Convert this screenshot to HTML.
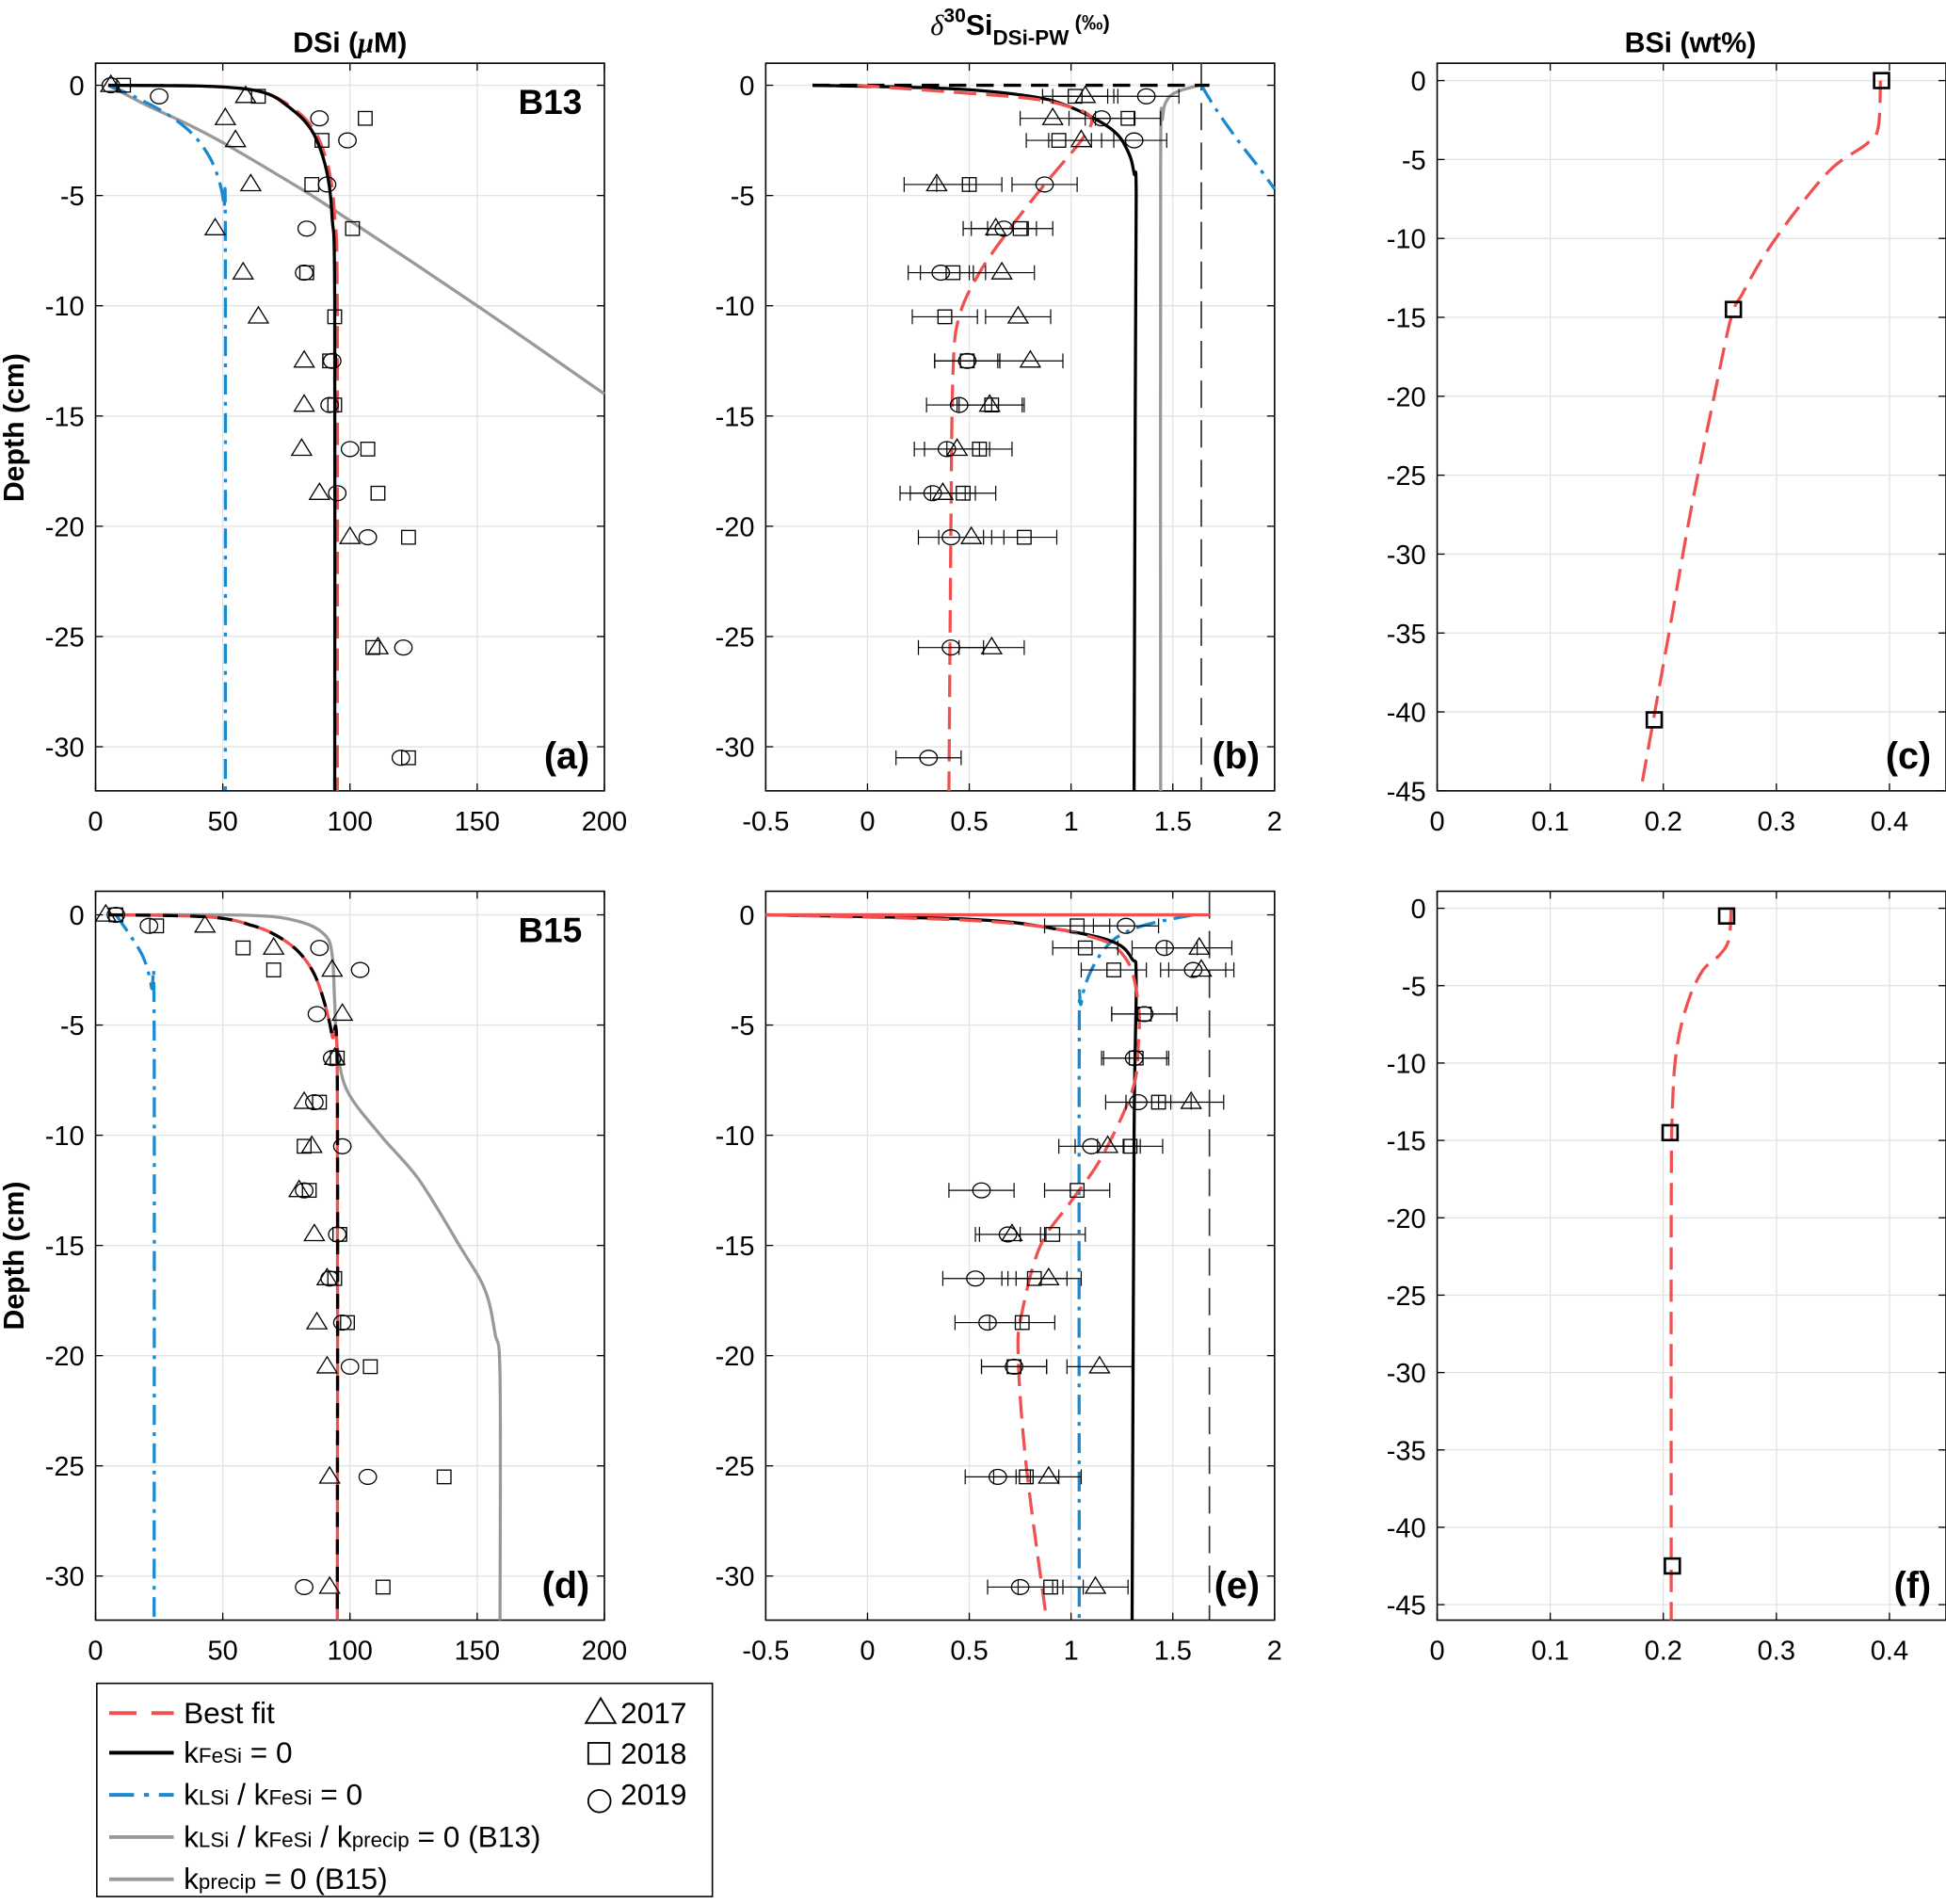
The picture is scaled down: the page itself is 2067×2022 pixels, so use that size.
<!DOCTYPE html>
<html><head><meta charset="utf-8">
<style>
html,body{margin:0;padding:0;background:#fff;}
svg{display:block;font-family:"Liberation Sans",sans-serif;}
</style></head>
<body>
<svg id="fig" width="2067" height="2022" viewBox="0 0 1568 1536" preserveAspectRatio="none" xmlns="http://www.w3.org/2000/svg">
<text x="282" y="42" font-size="23" font-weight="bold" text-anchor="middle">DSi (<tspan font-style="italic" font-family="Liberation Serif">μ</tspan>M)</text>
<text x="822" y="28" font-size="23" font-weight="bold" text-anchor="middle"><tspan font-style="italic" font-weight="normal" font-family="Liberation Serif">δ</tspan><tspan font-size="16" dy="-10">30</tspan><tspan dy="10">Si</tspan><tspan font-size="17" dy="8">DSi-PW</tspan><tspan font-size="17" dy="-12"> (‰)</tspan></text>
<text x="1362" y="42" font-size="23" font-weight="bold" text-anchor="middle">BSi (wt%)</text>
<text transform="translate(19,345) rotate(-90)" font-size="23" font-weight="bold" text-anchor="middle">Depth (cm)</text>
<text transform="translate(19,1013) rotate(-90)" font-size="23" font-weight="bold" text-anchor="middle">Depth (cm)</text>
<g id="legend">
<rect x="78" y="1358" width="496" height="172" fill="#fff" stroke="#000" stroke-width="1.2"/>
<line x1="88" y1="1382" x2="140" y2="1382" stroke="#f05050" stroke-width="3" stroke-dasharray="22,12,4,0"/>
<text x="148" y="1390" font-size="24">Best fit</text>
<line x1="88" y1="1414" x2="140" y2="1414" stroke="#000" stroke-width="3"/>
<text x="148" y="1422" font-size="24">k<tspan font-size="17">FeSi</tspan> = 0</text>
<line x1="88" y1="1448" x2="140" y2="1448" stroke="#1a8ad0" stroke-width="3" stroke-dasharray="20,8,4,8"/>
<text x="148" y="1456" font-size="24">k<tspan font-size="17">LSi</tspan> / k<tspan font-size="17">FeSi</tspan> = 0</text>
<line x1="88" y1="1482" x2="140" y2="1482" stroke="#999" stroke-width="3"/>
<text x="148" y="1490" font-size="24">k<tspan font-size="17">LSi</tspan> / k<tspan font-size="17">FeSi</tspan> / k<tspan font-size="17">precip</tspan> = 0 (B13)</text>
<line x1="88" y1="1516" x2="140" y2="1516" stroke="#999" stroke-width="3"/>
<text x="148" y="1524" font-size="24">k<tspan font-size="17">precip</tspan> = 0 (B15)</text>
<path d="M472,1390 L484,1370 L496,1390 Z" fill="none" stroke="#000" stroke-width="1.4"/>
<text x="500" y="1390" font-size="24">2017</text>
<rect x="474" y="1406" width="17" height="17" fill="none" stroke="#000" stroke-width="1.4"/>
<text x="500" y="1423" font-size="24">2018</text>
<circle cx="483" cy="1453" r="9" fill="none" stroke="#000" stroke-width="1.4"/>
<text x="500" y="1456" font-size="24">2019</text>
</g>
</svg>
<script>
// ---- Panel (a) B13 DSi ----
const aBestX=[5,40,58,68,76,83,88,92,94,95,95];
const aBestY=[0,-0.03,-0.15,-0.4,-0.9,-1.6,-2.5,-4,-6,-10,-32];
const aBlackX=[5,40,58,68,75,82,87,91,93,94,94];
const aBlackY=[0,-0.03,-0.15,-0.4,-0.9,-1.6,-2.5,-4,-6,-10,-32];
const aBlueX=[5,15,28,38,45,49,50.5,51,51];
const aBlueY=[0,-0.5,-1.3,-2.2,-3.3,-4.5,-5.5,-7,-32];
const aGrayX=[5,20,35,50,75,93,150,200];
const aGrayY=[0,-0.9,-1.7,-2.6,-4.3,-5.6,-10,-14];
const aTriX=[6,59,51,55,61,47,58,64,82,82,81,88,100,111];
const aTriY=[0,-0.5,-1.5,-2.5,-4.5,-6.5,-8.5,-10.5,-12.5,-14.5,-16.5,-18.5,-20.5,-25.5];
const aSqX=[11,64,106,89,85,101,83,94,92,94,107,111,123,109,123];
const aSqY=[0,-0.5,-1.5,-2.5,-4.5,-6.5,-8.5,-10.5,-12.5,-14.5,-16.5,-18.5,-20.5,-25.5,-30.5];
const aCirX=[6,25,88,99,91,83,82,93,92,100,95,107,121,120];
const aCirY=[0,-0.5,-1.5,-2.5,-4.5,-6.5,-8.5,-12.5,-14.5,-16.5,-18.5,-20.5,-25.5,-30.5];
// ---- Panel (b) B13 d30Si ----
const bBestX=[-0.05,0.4,0.8,1.0,1.1,1.05,0.87,0.7,0.55,0.45,0.42,0.41,0.40];
const bBestY=[0,-0.3,-0.6,-1.0,-1.5,-2.5,-4.5,-6.5,-8.5,-10.5,-13,-20,-32];
const bBlackX=[-0.27,0.4,0.8,1.0,1.2,1.28,1.31,1.32,1.315,1.31];
const bBlackY=[0,-0.15,-0.5,-1,-2,-3,-4,-5,-15,-32];
const bGrayX=[1.63,1.52,1.47,1.45,1.44,1.44];
const bGrayY=[0,-0.3,-0.7,-1.5,-4,-32];
const bBlueX=[1.64,1.72,1.82,1.92,2.0];
const bBlueY=[0,-1.2,-2.5,-3.7,-4.7];
const bTriX=[1.07,0.91,1.05,0.34,0.63,0.66,0.74,0.80,0.60,0.44,0.37,0.51,0.61];
const bTriY=[-0.5,-1.5,-2.5,-4.5,-6.5,-8.5,-10.5,-12.5,-14.5,-16.5,-18.5,-20.5,-25.5];
const bSqX=[1.02,1.28,0.94,0.50,0.75,0.42,0.38,0.49,0.61,0.55,0.47,0.77];
const bSqY=[-0.5,-1.5,-2.5,-4.5,-6.5,-8.5,-10.5,-12.5,-14.5,-16.5,-18.5,-20.5];
const bCirX=[1.37,1.15,1.31,0.87,0.67,0.36,0.49,0.45,0.39,0.32,0.41,0.41,0.30];
const bCirY=[-0.5,-1.5,-2.5,-4.5,-6.5,-8.5,-12.5,-14.5,-16.5,-18.5,-20.5,-25.5,-30.5];
const bErr=0.16;
// ---- Panel (c) B13 BSi ----
const cBestX=[0.392,0.39,0.38,0.35,0.32,0.29,0.27,0.26,0.245,0.225,0.205,0.19,0.18];
const cBestY=[0,-3,-4,-5.5,-8,-11,-13.5,-15,-20,-27,-35,-41,-45];
const cSqX=[0.393,0.262,0.192];
const cSqY=[0,-14.5,-40.5];
// ---- Panel (d) B15 DSi ----
const dBestX=[5,45,62,72,80,86,90,93,95,95];
const dBestY=[0,-0.1,-0.5,-1,-1.7,-2.7,-4,-5.5,-7.5,-32];
const dBlackX=[5,45,62,72,80,86,90,93,95,95];
const dBlackY=[0,-0.1,-0.5,-1,-1.7,-2.7,-4,-5.5,-7.5,-32];
const dBlueX=[8,14,19,22,23,23];
const dBlueY=[0,-1,-2,-3.3,-5,-32];
const dGrayX=[5,60,80,90,93,94,95,99,112,127,143,153,157,159,159];
const dGrayY=[0,-0.02,-0.3,-0.9,-1.8,-4,-6,-8,-10,-12,-15,-17,-19,-21,-32];
const dTriX=[4,43,70,93,97,94,82,85,80,86,91,87,91,92,92];
const dTriY=[0,-0.5,-1.5,-2.5,-4.5,-6.5,-8.5,-10.5,-12.5,-14.5,-16.5,-18.5,-20.5,-25.5,-30.5];
const dSqX=[8,24,58,70,95,88,82,84,96,94,99,108,137,113];
const dSqY=[0,-0.5,-1.5,-2.5,-6.5,-8.5,-10.5,-12.5,-14.5,-16.5,-18.5,-20.5,-25.5,-30.5];
const dCirX=[8,21,88,104,87,93,86,97,82,95,92,97,100,107,82];
const dCirY=[0,-0.5,-1.5,-2.5,-4.5,-6.5,-8.5,-10.5,-12.5,-14.5,-16.5,-18.5,-20.5,-25.5,-30.5];
// ---- Panel (e) B15 d30Si ----
const eBestX=[-0.5,0.6,1.1,1.27,1.33,1.33,1.3,1.15,1.0,0.85,0.76,0.74,0.78,0.88];
const eBestY=[0,-0.3,-1,-2,-4,-6,-8,-11,-13,-15,-18,-20,-25,-32];
const eBlackX=[-0.5,0.5,0.9,1.2,1.3,1.32,1.31,1.30];
const eBlackY=[0,-0.2,-0.6,-1.2,-2,-3,-10,-32];
const eGrayX=[-0.5,1.6];
const eGrayY=[0,0];
const eBlueX=[1.6,1.35,1.2,1.1,1.05,1.04,1.04];
const eBlueY=[0,-0.5,-1.2,-2.5,-4,-6,-32];
const eTriX=[1.63,1.64,1.59,1.18,0.71,0.89,1.14,0.89,1.12];
const eTriY=[-1.5,-2.5,-8.5,-10.5,-14.5,-16.5,-20.5,-25.5,-30.5];
const eSqX=[1.03,1.07,1.21,1.36,1.32,1.43,1.29,1.03,0.91,0.82,0.76,0.72,0.78,0.90];
const eSqY=[-0.5,-1.5,-2.5,-4.5,-6.5,-8.5,-10.5,-12.5,-14.5,-16.5,-18.5,-20.5,-25.5,-30.5];
const eCirX=[1.27,1.46,1.60,1.36,1.31,1.33,1.10,0.56,0.69,0.53,0.59,0.72,0.64,0.75];
const eCirY=[-0.5,-1.5,-2.5,-4.5,-6.5,-8.5,-10.5,-12.5,-14.5,-16.5,-18.5,-20.5,-25.5,-30.5];
const eErr=0.16;
// ---- Panel (f) B15 BSi ----
const fBestX=[0.26,0.258,0.25,0.235,0.222,0.212,0.208,0.207,0.207];
const fBestY=[0,-2,-3,-4,-6,-9,-13,-20,-46];
const fSqX=[0.256,0.206,0.208];
const fSqY=[-0.5,-14.5,-42.5];
// tick labels
const depthTicks=[0,-5,-10,-15,-20,-25,-30];
const bsiDepthTicks=[0,-5,-10,-15,-20,-25,-30,-35,-40,-45];
const dsiTicks=[0,50,100,150,200];
const deltaTicks=[-0.5,0,0.5,1,1.5,2];
const bsiTicks=[0,0.1,0.2,0.3,0.4];

const NS='http://www.w3.org/2000/svg';
const svg=document.getElementById('fig');
function el(tag,attrs,parent){const e=document.createElementNS(NS,tag);for(const k in attrs)e.setAttribute(k,attrs[k]);(parent||svg).appendChild(e);return e;}

function makePanel(name,x0,x1,y0,y1,xmin,xmax,ymin,ymax,xt,yt,letter,site){
  const g=el('g',{});
  
  
  const sx=v=>x0+(v-xmin)/(xmax-xmin)*(x1-x0);
  const sy=v=>y0+(ymax-v)/(ymax-ymin)*(y1-y0);
  xt.forEach(t=>{const X=sx(t);
    el('line',{x1:X,y1:y0,x2:X,y2:y1,stroke:'#e3e3e3','stroke-width':1},g);
    el('line',{x1:X,y1:y1,x2:X,y2:y1-6,stroke:'#000','stroke-width':1},g);
    el('line',{x1:X,y1:y0,x2:X,y2:y0+6,stroke:'#000','stroke-width':1},g);
    const tx=el('text',{x:X,y:y1+32,'font-size':22,'text-anchor':'middle'},g);
    
    
    tx.textContent=String(t);});
  yt.forEach(t=>{const Y=sy(t);
    el('line',{x1:x0,y1:Y,x2:x1,y2:Y,stroke:'#e3e3e3','stroke-width':1},g);
    el('line',{x1:x0,y1:Y,x2:x0+6,y2:Y,stroke:'#000','stroke-width':1},g);
    el('line',{x1:x1,y1:Y,x2:x1-6,y2:Y,stroke:'#000','stroke-width':1},g);
    const tx=el('text',{x:x0-9,y:Y+8,'font-size':22,'text-anchor':'end'},g);
    
    
    tx.textContent=String(t);});
  el('rect',{x:x0,y:y0,width:x1-x0,height:y1-y0,fill:'none',stroke:'#000','stroke-width':1.2},g);
  const lt=el('text',{x:x1-12,y:y1-18,'font-size':30,'font-weight':'bold','text-anchor':'end'},g);
  
  
  lt.textContent='('+letter+')';
  if(site){const st=el('text',{x:x1-18,y:y0+41,'font-size':28,'font-weight':'bold','text-anchor':'end'},g);
    
    
    st.textContent=site;}
  return {g,sx,sy,x0,x1,y0,y1};
}
function curve(P,xs,ys,stroke,w,dash,name){
  const pts=xs.map((x,i)=>[P.sx(x),P.sy(ys[i])]);
  let d='M'+pts[0][0].toFixed(1)+','+pts[0][1].toFixed(1);
  for(let i=0;i<pts.length-1;i++){
    const p0=pts[Math.max(0,i-1)],p1=pts[i],p2=pts[i+1],p3=pts[Math.min(pts.length-1,i+2)];
    const c1=[p1[0]+(p2[0]-p0[0])/6,p1[1]+(p2[1]-p0[1])/6];
    const c2=[p2[0]-(p3[0]-p1[0])/6,p2[1]-(p3[1]-p1[1])/6];
    d+='C'+c1[0].toFixed(1)+','+c1[1].toFixed(1)+' '+c2[0].toFixed(1)+','+c2[1].toFixed(1)+' '+p2[0].toFixed(1)+','+p2[1].toFixed(1);
  }
  const p=el('path',{d:d,fill:'none',stroke:stroke,'stroke-width':w,'stroke-linejoin':'round'},P.g);
  if(dash)p.setAttribute('stroke-dasharray',dash);
  
  
}
function vdash(P,xv,name){const X=P.sx(xv);
  const l=el('line',{x1:X,y1:P.y0,x2:X,y2:P.y1,stroke:'#333','stroke-width':1.3,'stroke-dasharray':'22,10'},P.g);
  
  }
function markers(P,xs,ys,kind,err,name){
  for(let i=0;i<xs.length;i++){const X=P.sx(xs[i]),Y=P.sy(ys[i]);
    if(err){const a=P.sx(xs[i]-err),b=P.sx(xs[i]+err);
      el('line',{x1:a,y1:Y,x2:b,y2:Y,stroke:'#000','stroke-width':0.9},P.g);
      el('line',{x1:a,y1:Y-6,x2:a,y2:Y+6,stroke:'#000','stroke-width':0.9},P.g);
      el('line',{x1:b,y1:Y-6,x2:b,y2:Y+6,stroke:'#000','stroke-width':0.9},P.g);}
    let m;
    if(kind==='tri')m=el('path',{d:`M${X-8},${Y+5} L${X},${Y-8} L${X+8},${Y+5} Z`,fill:'none',stroke:'#000','stroke-width':1},P.g);
    else if(kind==='sq')m=el('rect',{x:X-5.5,y:Y-5.5,width:11,height:11,fill:'none',stroke:'#000','stroke-width':1},P.g);
    else if(kind==='bsq')m=el('rect',{x:X-6,y:Y-6,width:12,height:12,fill:'none',stroke:'#000','stroke-width':2},P.g);
    else m=el('ellipse',{cx:X,cy:Y,rx:7,ry:6,fill:'none',stroke:'#000','stroke-width':1},P.g);
    
    
  }
}
const RED='#f05050',BLUE='#1a8ad0',GRAY='#999';
const RD='18,8',BD='16,6,3,6';
// (a)
let P=makePanel('panel-a-dsi-b13',77,487,51,638,0,200,-32,1,dsiTicks,depthTicks,'a','B13');
curve(P,aGrayX,aGrayY,GRAY,2.5,null,'line-all-zero');
curve(P,aBlueX,aBlueY,BLUE,2.5,BD,'line-klsi-kfesi-zero');
curve(P,aBestX,aBestY,RED,2.5,RD,'line-best-fit');
curve(P,aBlackX,aBlackY,'#000',2.5,null,'line-kfesi-zero');
markers(P,aTriX,aTriY,'tri',0,'marker-2017');
markers(P,aSqX,aSqY,'sq',0,'marker-2018');
markers(P,aCirX,aCirY,'cir',0,'marker-2019');
// (b)
P=makePanel('panel-b-delta-b13',617,1027,51,638,-0.5,2,-32,1,deltaTicks,depthTicks,'b',null);
vdash(P,1.64,'reference-dashed-line');
curve(P,bGrayX,bGrayY,GRAY,2.5,null,'line-all-zero');
curve(P,bBlueX,bBlueY,BLUE,2.5,BD,'line-klsi-kfesi-zero');
curve(P,bBlackX,bBlackY,'#000',2.5,null,'line-kfesi-zero');
curve(P,[-0.27,1.68],[0,0],'#000',2.5,'14,8','line-top-black');
curve(P,bBestX,bBestY,RED,2.5,RD,'line-best-fit');
markers(P,bTriX,bTriY,'tri',bErr,'marker-2017');
markers(P,bSqX,bSqY,'sq',bErr,'marker-2018');
markers(P,bCirX,bCirY,'cir',bErr,'marker-2019');
// (c)
P=makePanel('panel-c-bsi-b13',1158,1568,51,638,0,0.45,-45,1.1,bsiTicks,bsiDepthTicks,'c',null);
curve(P,cBestX,cBestY,RED,2.5,RD,'line-best-fit');
markers(P,cSqX,cSqY,'bsq',0,'marker-bsi');
// (d)
P=makePanel('panel-d-dsi-b15',77,487,719,1307,0,200,-32,1.07,dsiTicks,depthTicks,'d','B15');
curve(P,dGrayX,dGrayY,GRAY,2.5,null,'line-kprecip-zero');
curve(P,dBlueX,dBlueY,BLUE,2.5,BD,'line-klsi-kfesi-zero');
curve(P,dBestX,dBestY,RED,2.5,null,'line-best-fit');
curve(P,dBlackX,dBlackY,'#000',2.5,'12,10','line-kfesi-zero');
markers(P,dTriX,dTriY,'tri',0,'marker-2017');
markers(P,dSqX,dSqY,'sq',0,'marker-2018');
markers(P,dCirX,dCirY,'cir',0,'marker-2019');
// (e)
P=makePanel('panel-e-delta-b15',617,1027,719,1307,-0.5,2,-32,1.07,deltaTicks,depthTicks,'e',null);
vdash(P,1.68,'reference-dashed-line');
curve(P,eGrayX,eGrayY,GRAY,2.5,null,'line-kprecip-zero');
curve(P,eBlueX,eBlueY,BLUE,2.5,BD,'line-klsi-kfesi-zero');
curve(P,eBlackX,eBlackY,'#000',2.5,null,'line-kfesi-zero');
curve(P,[-0.5,1.68],[0,0],RED,2.5,null,'line-top-red');
curve(P,eBestX,eBestY,RED,2.5,RD,'line-best-fit');
markers(P,eTriX,eTriY,'tri',eErr,'marker-2017');
markers(P,eSqX,eSqY,'sq',eErr,'marker-2018');
markers(P,eCirX,eCirY,'cir',eErr,'marker-2019');
// (f)
P=makePanel('panel-f-bsi-b15',1158,1568,719,1307,0,0.45,-46,1.1,bsiTicks,bsiDepthTicks,'f',null);
curve(P,fBestX,fBestY,RED,2.5,RD,'line-best-fit');
markers(P,fSqX,fSqY,'bsq',0,'marker-bsi');
</script>
</body></html>
